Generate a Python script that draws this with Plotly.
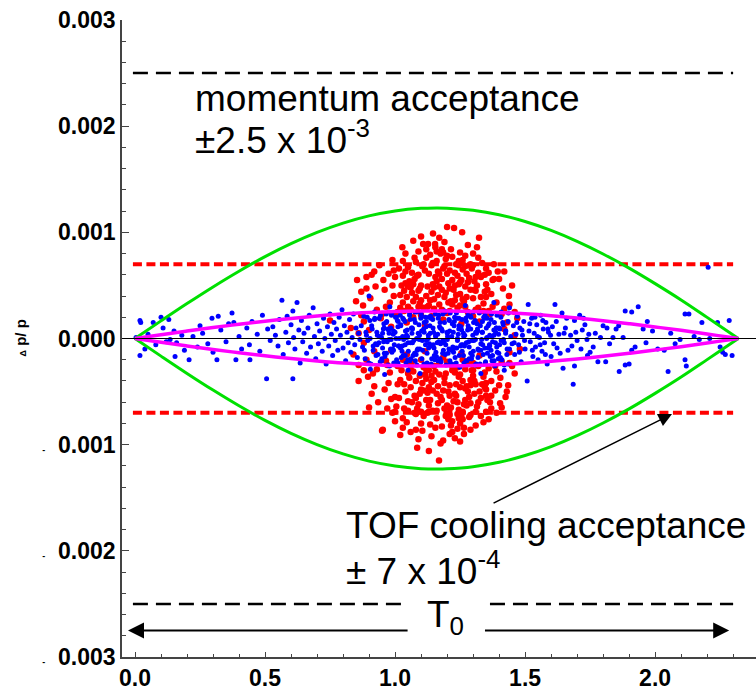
import plotly.graph_objects as go

# ---------------- data ----------------
momentum_acc = 0.0025
tof_acc = 0.0007

env_x = [0, 0.1, 0.2, 0.3, 0.4, 0.5, 0.6, 0.7, 0.8, 0.9, 1.0, 1.1, 1.16, 1.2, 1.3,
         1.4, 1.5, 1.6, 1.7, 1.8, 1.9, 2.0, 2.1, 2.2, 2.3, 2.32]
green_y = [0, 1.66e-4, 3.29e-4, 4.86e-4, 6.34e-4, 7.71e-4, 8.93e-4, 9.99e-4, 10.87e-4,
           11.55e-4, 12.01e-4, 12.26e-4, 12.3e-4, 12.28e-4, 12.08e-4, 11.66e-4, 11.02e-4,
           10.18e-4, 9.15e-4, 7.96e-4, 6.63e-4, 5.17e-4, 3.63e-4, 1.99e-4, 0.33e-4, 0]
magenta_y = [0, 0.35e-4, 0.70e-4, 1.03e-4, 1.34e-4, 1.63e-4, 1.89e-4, 2.11e-4, 2.30e-4,
             2.44e-4, 2.54e-4, 2.59e-4, 2.60e-4, 2.60e-4, 2.55e-4, 2.46e-4, 2.33e-4,
             2.15e-4, 1.93e-4, 1.68e-4, 1.40e-4, 1.09e-4, 0.77e-4, 0.42e-4, 0.07e-4, 0]

red_points = [
    (1.20, 10.5e-4), (1.227, 10.4e-4), (1.258, 10.0e-4), (1.146, 9.9e-4), (1.323, 9.5e-4),
    (1.028, 8.6e-4), (1.108, 8.9e-4), (1.127, 8.9e-4), (1.154, 8.9e-4), (1.185, 8.1e-4),
    (1.315, 8.6e-4), (1.30, 8.0e-4), (1.09, 8.2e-4), (1.12, 7.6e-4),
    (1.169, -11.5e-4), (1.085, -10.3e-4), (1.185, -9.6e-4), (0.95, -8.7e-4), (1.265, -9.0e-4),
    (1.14, -9.2e-4), (1.03, -8.4e-4), (1.22, -8.8e-4), (1.10, -8.0e-4), (1.31, -8.2e-4),
    (1.36, -7.6e-4), (1.00, -7.8e-4),
    (0.854, 5.5e-4), (0.896, -3.6e-4), (0.877, 3.1e-4), (1.438, 4.0e-4), (1.404, -6.1e-4),
    (1.435, -4.4e-4), (0.75, 1.7e-4), (0.89, 4.7e-4), (0.953, -8.6e-4), (0.86, -2.5e-4),
    (0.87, 2.2e-4), (0.92, 6.3e-4), (0.91, -5.2e-4), (1.42, 2.8e-4), (1.45, -2.6e-4),
    (1.40, 5.6e-4), (1.38, 7.0e-4), (1.39, -7.0e-4), (0.94, 6.9e-4), (0.97, -6.6e-4),
    (1.33, -7.3e-4),
    (1.00, 5.8e-4), (1.02, 4.1e-4), (1.05, 6.7e-4), (1.07, 3.5e-4), (1.08, 7.2e-4),
    (1.10, 5.0e-4), (1.11, 2.9e-4), (1.13, 6.1e-4), (1.14, 4.4e-4), (1.16, 7.3e-4),
    (1.17, 3.2e-4), (1.18, 5.6e-4), (1.19, 6.8e-4), (1.21, 4.7e-4), (1.22, 7.7e-4),
    (1.23, 3.6e-4), (1.24, 5.9e-4), (1.25, 4.2e-4), (1.26, 6.5e-4), (1.27, 3.0e-4),
    (1.28, 5.3e-4), (1.29, 7.0e-4), (1.31, 4.5e-4), (1.32, 6.2e-4), (1.34, 3.3e-4),
    (1.35, 5.1e-4), (1.36, 2.6e-4), (0.98, 3.4e-4), (0.99, 7.4e-4), (1.01, 2.5e-4),
    (1.04, 5.2e-4), (1.06, 2.7e-4), (1.09, 6.0e-4), (1.12, 4.0e-4), (1.15, 2.8e-4),
    (1.18, 8.4e-4), (1.20, 6.1e-4), (1.23, 5.0e-4), (1.25, 8.1e-4), (1.27, 4.9e-4),
    (1.30, 3.8e-4), (1.33, 5.8e-4), (1.37, 4.2e-4), (0.96, 4.6e-4), (1.03, 7.3e-4),
    (1.06, 4.8e-4), (1.11, 7.0e-4), (1.13, 3.1e-4), (1.16, 5.4e-4), (1.19, 3.9e-4),
    (1.21, 6.4e-4), (1.24, 2.9e-4), (1.26, 7.4e-4), (1.29, 4.6e-4), (1.32, 2.9e-4),
    (1.35, 6.6e-4), (1.39, 3.4e-4), (1.41, 2.3e-4),
    (1.00, 2.3e-4), (1.05, 3.0e-4), (1.10, 2.2e-4), (1.15, 3.7e-4), (1.20, 2.4e-4),
    (1.25, 3.1e-4), (1.30, 2.1e-4), (1.35, 3.9e-4), (0.93, 2.7e-4), (1.08, 3.9e-4),
    (1.22, 3.2e-4), (1.28, 2.5e-4),
    (1.00, -5.5e-4), (1.02, -3.9e-4), (1.05, -6.8e-4), (1.07, -3.1e-4), (1.08, -7.1e-4),
    (1.10, -4.8e-4), (1.11, -2.7e-4), (1.13, -6.3e-4), (1.14, -4.1e-4), (1.16, -7.5e-4),
    (1.17, -3.4e-4), (1.18, -5.8e-4), (1.19, -6.6e-4), (1.21, -4.4e-4), (1.22, -7.8e-4),
    (1.23, -3.2e-4), (1.24, -6.0e-4), (1.25, -4.6e-4), (1.26, -6.9e-4), (1.27, -2.9e-4),
    (1.28, -5.0e-4), (1.29, -7.2e-4), (1.31, -4.3e-4), (1.32, -6.0e-4), (1.34, -3.6e-4),
    (1.35, -5.4e-4), (1.36, -2.8e-4), (0.98, -3.2e-4), (0.99, -7.0e-4), (1.01, -2.6e-4),
    (1.04, -5.0e-4), (1.06, -2.5e-4), (1.09, -6.2e-4), (1.12, -3.8e-4), (1.15, -2.6e-4),
    (1.18, -8.3e-4), (1.20, -6.3e-4), (1.23, -5.2e-4), (1.25, -8.0e-4), (1.27, -4.7e-4),
    (1.30, -3.5e-4), (1.33, -5.6e-4), (1.37, -4.0e-4), (0.96, -4.8e-4), (1.03, -7.5e-4),
    (1.06, -4.6e-4), (1.11, -7.3e-4), (1.13, -3.0e-4), (1.16, -5.2e-4), (1.19, -3.7e-4),
    (1.21, -6.6e-4), (1.24, -2.7e-4), (1.26, -7.6e-4), (1.29, -4.4e-4), (1.32, -2.6e-4),
    (1.35, -6.9e-4), (1.39, -3.1e-4), (1.41, -2.2e-4), (1.00, -2.4e-4), (1.05, -3.3e-4),
    (1.10, -2.0e-4), (1.15, -3.9e-4), (1.20, -2.2e-4), (1.25, -3.4e-4), (1.30, -2.3e-4),
    (1.35, -4.2e-4), (0.93, -2.9e-4), (1.08, -4.0e-4), (1.22, -3.0e-4), (1.28, -2.4e-4),
    (1.045, 1.5e-4), (1.115, 1.2e-4), (1.185, 1.8e-4), (1.255, 1.4e-4), (1.325, 1.6e-4),
    (0.985, 1.1e-4), (1.045, -1.5e-4), (1.115, -1.2e-4), (1.185, -1.8e-4), (1.255, -1.4e-4),
    (1.325, -1.6e-4), (0.985, -1.1e-4),
    (1.035, 4.5e-4), (1.075, 5.6e-4), (1.125, 4.9e-4), (1.165, 6.3e-4), (1.205, 5.2e-4),
    (1.245, 6.9e-4), (1.285, 5.7e-4), (1.095, 3.3e-4), (1.145, 5.1e-4), (1.235, 4.1e-4),
    (1.275, 6.1e-4), (1.195, 7.5e-4), (1.135, 7.9e-4), (1.215, 8.4e-4), (1.065, 6.2e-4),
    (1.305, 5.4e-4), (1.345, 4.4e-4), (1.155, 8.6e-4), (1.245, 7.3e-4),
    (1.035, -4.3e-4), (1.075, -5.4e-4), (1.125, -5.1e-4), (1.165, -6.1e-4), (1.205, -5.0e-4),
    (1.245, -6.7e-4), (1.285, -5.5e-4), (1.095, -3.5e-4), (1.145, -4.9e-4), (1.235, -4.3e-4),
    (1.275, -6.3e-4), (1.195, -7.3e-4), (1.135, -8.1e-4), (1.215, -8.2e-4), (1.065, -6.0e-4),
    (1.305, -5.2e-4), (1.345, -4.6e-4), (1.155, -8.4e-4), (1.245, -7.5e-4), (1.105, -8.7e-4),
    (1.175, -9.9e-4), (1.265, -8.4e-4),
    (0.90, 0.8e-4), (0.92, -1.2e-4), (1.42, 0.9e-4), (1.44, -1.3e-4), (0.88, -0.4e-4),
    (1.46, 0.3e-4),
    (0.905, 3.8e-4), (0.915, -3.3e-4), (0.925, 4.9e-4), (0.935, -6.0e-4), (0.945, 1.9e-4),
    (0.955, 5.5e-4), (0.965, -2.1e-4), (0.975, 6.1e-4), (0.985, -5.7e-4), (0.995, 4.0e-4),
    (1.005, -6.4e-4), (1.015, 6.6e-4), (1.025, -3.0e-4), (1.035, 2.6e-4), (1.045, -7.9e-4),
    (1.055, 5.4e-4), (1.065, -2.2e-4), (1.075, 7.6e-4), (1.085, -6.6e-4), (1.095, 4.7e-4),
    (1.105, -4.2e-4), (1.115, 6.4e-4), (1.125, -7.0e-4), (1.135, 3.6e-4), (1.145, -6.8e-4),
    (1.155, 5.8e-4), (1.165, -4.5e-4), (1.175, 8.0e-4), (1.185, -4.9e-4), (1.195, 4.3e-4),
    (1.205, -7.6e-4), (1.215, 3.5e-4), (1.225, -5.9e-4), (1.235, 7.0e-4), (1.245, -3.6e-4),
    (1.255, 5.5e-4), (1.265, -6.2e-4), (1.275, 3.9e-4), (1.285, -7.4e-4), (1.295, 6.6e-4),
    (1.305, -4.0e-4), (1.315, 5.0e-4), (1.325, -5.0e-4), (1.335, 7.1e-4), (1.345, -3.2e-4),
    (1.355, 4.6e-4), (1.365, -6.0e-4), (1.375, 5.5e-4), (1.385, -4.9e-4), (1.395, 6.3e-4),
    (1.405, -3.7e-4), (1.415, 4.7e-4), (1.425, -5.5e-4), (1.365, 2.3e-4), (1.02, -9.1e-4),
    (1.07, 9.2e-4), (1.17, 9.5e-4), (1.23, -9.4e-4), (1.28, 8.8e-4), (1.06, -8.8e-4),
    (1.14, 6.9e-4), (1.16, -6.8e-4), (1.20, 7.8e-4), (1.24, -7.1e-4), (1.12, -5.8e-4),
    (1.18, 4.6e-4), (1.22, 5.5e-4), (1.26, -4.0e-4), (1.30, 6.9e-4), (1.08, -5.6e-4),
    (1.04, 6.3e-4), (1.10, -6.9e-4), (1.14, 2.1e-4), (1.17, -2.3e-4), (1.21, 2.6e-4),
    (1.26, -2.0e-4), (1.31, 2.7e-4), (1.03, -2.0e-4), (1.07, 2.0e-4), (1.12, -2.9e-4),
    (0.99, 5.0e-4), (1.01, -4.3e-4), (1.03, 3.4e-4), (1.05, -5.9e-4), (1.09, 4.5e-4),
    (1.13, -4.6e-4), (1.17, 4.9e-4), (1.21, -5.4e-4), (1.25, 5.3e-4), (1.29, -6.1e-4),
    (1.33, 3.9e-4), (1.37, -5.4e-4), (1.38, 5.6e-4), (1.34, -7.9e-4), (1.12, 8.4e-4),
    (1.19, 9.1e-4), (1.27, 7.8e-4), (1.09, -9.5e-4), (1.21, -9.0e-4), (1.29, -8.6e-4),
    (0.83, 1.0e-4), (0.84, -1.5e-4), (0.85, 3.5e-4), (0.86, -4.0e-4), (0.87, 4.4e-4),
    (0.88, -3.0e-4), (0.89, 5.8e-4), (0.88, 1.6e-4), (0.86, 0.5e-4), (0.90, -6.5e-4),
    (0.91, 6.0e-4), (0.92, -4.5e-4), (0.89, -2.0e-4),
    (1.43, 1.5e-4), (1.44, 3.2e-4), (1.46, -3.3e-4), (1.47, 1.9e-4), (1.45, 5.0e-4),
    (1.43, -5.0e-4), (1.48, -1.0e-4), (1.42, 6.3e-4), (1.41, -6.5e-4), (1.44, -2.3e-4),
    (1.46, 2.5e-4),
    (0.965, 3.0e-4), (0.975, -4.2e-4), (0.995, 6.4e-4), (1.015, -5.6e-4), (1.025, 5.0e-4),
    (1.035, -6.6e-4), (1.045, 3.9e-4), (1.055, -3.7e-4), (1.065, 4.3e-4), (1.075, -7.0e-4),
    (1.085, 5.9e-4), (1.095, -5.2e-4), (1.105, 6.8e-4), (1.115, -3.4e-4), (1.125, 3.0e-4),
    (1.135, -5.8e-4), (1.145, 7.1e-4), (1.155, -3.1e-4), (1.165, 4.1e-4), (1.175, -5.5e-4),
    (1.185, 6.6e-4), (1.195, -3.3e-4), (1.205, 3.4e-4), (1.215, -6.5e-4), (1.225, 4.6e-4),
    (1.235, -5.4e-4), (1.245, 5.1e-4), (1.255, -7.2e-4), (1.265, 3.5e-4), (1.275, -4.5e-4),
    (1.285, 6.9e-4), (1.295, -3.0e-4), (1.305, 4.6e-4), (1.315, -6.4e-4), (1.325, 5.9e-4),
    (1.335, -4.3e-4), (1.345, 6.0e-4), (1.355, -5.8e-4), (1.375, 3.0e-4), (1.385, -2.6e-4),
    (1.02, 2.9e-4), (1.06, -2.9e-4), (1.10, 3.6e-4), (1.14, -3.5e-4), (1.18, 2.7e-4),
    (1.22, -2.6e-4), (1.26, 3.7e-4), (1.30, -3.0e-4), (1.34, 2.6e-4), (0.97, -2.5e-4),
    (1.04, 8.0e-4), (1.08, -8.6e-4), (1.16, 8.2e-4), (1.24, -8.5e-4), (1.32, 7.6e-4),
    (1.00, -6.9e-4), (1.36, 6.2e-4), (1.10, 9.6e-4), (1.25, -9.7e-4), (1.13, -10.6e-4),
    (1.05, 4.9e-4), (1.11, -4.9e-4), (1.15, 4.8e-4), (1.19, -4.2e-4), (1.23, 6.2e-4),
    (1.27, -5.8e-4), (1.31, 5.8e-4), (1.35, -4.8e-4), (1.09, 3.0e-4), (1.29, -3.9e-4),
    (1.07, 5.1e-4), (1.13, -6.9e-4), (1.17, 6.1e-4), (1.21, -7.2e-4), (1.27, 6.8e-4),
    (1.31, -6.9e-4), (1.03, 5.9e-4), (1.37, -6.6e-4), (0.95, 2.3e-4), (1.40, -4.4e-4),
]

blue_points = [
    (0.004, 0.1e-4), (0.019, 1.7e-4), (0.022, 1.5e-4), (0.019, -1.6e-4), (0.038, -1.0e-4),
    (0.05, 0.4e-4), (0.07, 1.5e-4), (0.08, -0.6e-4), (0.10, 2.0e-4), (0.108, 1.0e-4),
    (0.12, -0.3e-4), (0.13, 1.8e-4), (0.135, -0.1e-4), (0.15, 0.7e-4), (0.16, -0.4e-4),
    (0.154, -1.7e-4), (0.18, 0.3e-4), (0.19, -1.1e-4), (0.208, -2.0e-4), (0.223, 0.2e-4),
    (0.24, -0.8e-4), (0.25, 1.2e-4), (0.26, 0.5e-4), (0.28, -0.5e-4), (0.296, 1.9e-4),
    (0.30, -1.3e-4), (0.315, -2.0e-4), (0.32, 2.1e-4), (0.33, 0.8e-4), (0.35, -0.3e-4),
    (0.36, 1.4e-4), (0.373, 2.4e-4), (0.38, 1.5e-4), (0.388, -2.0e-4), (0.40, 0.2e-4),
    (0.41, -1.0e-4), (0.43, 1.0e-4), (0.44, -0.6e-4), (0.442, -2.0e-4), (0.45, 1.6e-4),
    (0.47, 0.4e-4), (0.48, -1.2e-4), (0.49, 2.2e-4), (0.506, -3.8e-4), (0.51, 0.9e-4),
    (0.52, -0.2e-4),
    (0.53, 1.1e-4), (0.54, 0.3e-4), (0.55, -0.7e-4), (0.555, 1.8e-4), (0.565, 3.6e-4),
    (0.57, -1.5e-4), (0.58, 0.6e-4), (0.585, 2.1e-4), (0.59, -0.4e-4), (0.60, 1.3e-4),
    (0.607, -3.8e-4), (0.607, 2.6e-4), (0.61, 0.1e-4), (0.615, -1.0e-4), (0.623, 3.4e-4),
    (0.63, 0.8e-4), (0.635, -2.3e-4), (0.64, 1.7e-4), (0.645, -0.3e-4), (0.65, 0.5e-4),
    (0.66, -1.4e-4), (0.665, 1.0e-4), (0.67, 2.2e-4), (0.675, -0.8e-4), (0.685, 2.9e-4),
    (0.69, 0.2e-4), (0.695, -1.9e-4), (0.70, 1.4e-4), (0.705, -0.5e-4), (0.71, 0.7e-4),
    (0.72, -1.2e-4), (0.725, 1.9e-4), (0.73, 0.0), (0.735, -2.4e-4), (0.74, 1.1e-4),
    (0.745, -0.7e-4), (0.75, 2.3e-4), (0.755, 0.4e-4), (0.76, -1.6e-4), (0.765, 1.5e-4),
    (0.77, -0.2e-4), (0.775, 0.9e-4), (0.78, -1.1e-4), (0.785, 2.0e-4), (0.79, 0.3e-4),
    (0.796, 2.7e-4), (0.80, -0.9e-4), (0.805, 1.2e-4), (0.81, -2.1e-4), (0.815, 0.6e-4),
    (0.82, -0.4e-4), (0.825, 1.8e-4), (0.83, -1.3e-4), (0.835, 0.1e-4), (0.84, 2.3e-4),
    (0.845, -0.6e-4), (0.85, 1.0e-4), (0.855, -1.8e-4), (0.86, 0.5e-4), (0.865, -0.1e-4),
    (0.870, 1.2e-4), (0.875, -0.8e-4), (0.880, 2.1e-4), (0.885, -1.9e-4), (0.890, 0.3e-4),
    (0.895, -0.2e-4), (0.900, 4.0e-4), (0.903, 1.7e-4), (0.907, -2.4e-4), (0.912, 0.9e-4),
    (0.916, -1.1e-4), (0.921, 2.5e-4), (0.925, -0.5e-4), (0.930, 0.6e-4), (0.934, -1.5e-4),
    (0.939, 1.9e-4), (0.943, -2.2e-4), (0.948, 0.1e-4), (0.952, -0.9e-4), (0.957, 1.4e-4),
    (0.961, -1.7e-4), (0.966, 2.3e-4), (0.970, -0.3e-4), (0.975, 0.8e-4), (0.979, -2.6e-4),
    (0.984, 1.0e-4), (0.988, -1.3e-4), (0.993, 0.4e-4), (0.997, -0.6e-4), (1.002, 2.0e-4),
    (1.006, -2.0e-4), (1.011, 1.1e-4), (1.015, -0.7e-4), (1.020, 2.2e-4), (1.024, -1.8e-4),
    (1.029, 0.2e-4), (1.033, -0.1e-4), (1.038, 1.6e-4), (1.042, -2.3e-4), (1.047, 0.8e-4),
    (1.051, -1.2e-4), (1.056, 2.4e-4), (1.060, -0.4e-4), (1.065, 0.5e-4), (1.069, -1.6e-4),
    (1.074, 1.8e-4), (1.078, -2.1e-4), (1.083, 0.0), (1.087, -1.0e-4), (1.092, 1.3e-4),
    (1.096, -3.3e-4), (1.101, 2.2e-4), (1.105, -0.2e-4), (1.110, 0.9e-4), (1.114, -2.5e-4),
    (1.119, 1.1e-4), (1.123, -1.4e-4), (1.128, 0.3e-4), (1.132, -0.5e-4), (1.137, 2.1e-4),
    (1.141, -1.9e-4), (1.146, 1.0e-4), (1.150, -0.9e-4), (1.155, 2.3e-4), (1.159, -1.7e-4),
    (1.164, 0.4e-4), (1.168, -0.3e-4), (1.173, 1.5e-4), (1.177, -2.2e-4), (1.182, 0.7e-4),
    (1.186, -1.1e-4), (1.191, 2.6e-4), (1.195, -0.6e-4), (1.200, 0.6e-4), (1.204, -1.4e-4),
    (1.209, 1.7e-4), (1.213, -2.4e-4), (1.218, 0.2e-4), (1.222, -0.8e-4), (1.227, 1.2e-4),
    (1.231, -1.8e-4), (1.236, 2.4e-4), (1.240, -0.2e-4), (1.245, 0.9e-4), (1.249, -2.7e-4),
    (1.254, 1.1e-4), (1.258, -1.2e-4), (1.263, 0.5e-4), (1.267, -0.7e-4), (1.272, 1.9e-4),
    (1.276, -2.1e-4), (1.281, 1.2e-4), (1.285, -0.8e-4), (1.290, 2.1e-4), (1.294, -1.9e-4),
    (1.299, 0.3e-4), (1.303, -0.2e-4), (1.308, 1.7e-4), (1.312, -2.4e-4), (1.317, 0.9e-4),
    (1.321, -1.1e-4), (1.326, 2.5e-4), (1.330, -0.5e-4), (1.335, 0.6e-4), (1.339, -1.5e-4),
    (1.344, 1.9e-4), (1.348, -2.2e-4), (1.353, 0.1e-4), (1.357, -0.9e-4), (1.362, 1.4e-4),
    (1.366, -1.7e-4), (1.371, 2.3e-4), (1.375, -0.3e-4), (1.380, 0.8e-4), (1.384, -2.6e-4),
    (1.389, 1.0e-4), (1.393, -1.3e-4), (1.398, 0.4e-4), (1.402, -0.6e-4), (1.407, 2.0e-4),
    (1.411, -2.0e-4), (1.416, 1.3e-4), (1.420, -0.4e-4), (1.425, 0.7e-4), (1.430, -1.5e-4),
    (1.435, 1.6e-4), (1.440, -1.0e-4), (1.445, 0.2e-4), (1.450, -0.5e-4),
    (0.952, 0.5e-4), (0.959, -1.4e-4), (0.968, 1.6e-4), (0.977, -0.1e-4), (0.986, 2.2e-4),
    (0.995, -2.3e-4), (1.004, 0.0), (1.013, -0.7e-4), (1.022, 1.3e-4), (1.031, -1.6e-4),
    (1.040, 0.7e-4), (1.049, -2.0e-4), (1.058, 1.8e-4), (1.067, -0.4e-4), (1.076, 2.5e-4),
    (1.085, -1.1e-4), (1.094, 0.3e-4), (1.103, -1.9e-4), (1.112, 1.5e-4), (1.121, -0.2e-4),
    (1.130, 2.0e-4), (1.139, -2.4e-4), (1.148, 0.6e-4), (1.157, -1.3e-4), (1.166, 1.9e-4),
    (1.175, -0.5e-4), (1.184, 2.3e-4), (1.193, -1.5e-4), (1.202, 0.2e-4), (1.211, -2.1e-4),
    (1.220, 1.4e-4), (1.229, -0.9e-4), (1.238, 1.9e-4), (1.247, -1.6e-4), (1.256, 0.8e-4),
    (1.265, -2.3e-4), (1.274, 1.6e-4), (1.283, -0.3e-4), (1.292, 2.0e-4), (1.301, -1.2e-4),
    (1.310, 0.6e-4), (1.319, -1.8e-4), (1.328, 1.2e-4), (1.337, -0.6e-4), (1.346, 2.2e-4),
    (1.355, -1.4e-4), (1.364, 0.3e-4), (1.373, -2.1e-4), (1.382, 1.5e-4), (1.391, -0.8e-4),
    (1.400, 1.0e-4),
    (0.956, -0.3e-4), (0.973, 0.9e-4), (0.991, -1.0e-4), (1.009, 1.7e-4), (1.027, -1.2e-4),
    (1.045, 0.1e-4), (1.063, 1.0e-4), (1.081, -1.5e-4), (1.099, 1.9e-4), (1.117, -0.6e-4),
    (1.135, 0.5e-4), (1.153, -2.0e-4), (1.171, 1.1e-4), (1.189, -0.4e-4), (1.207, 1.8e-4),
    (1.225, -1.3e-4), (1.243, 0.4e-4), (1.261, -0.6e-4), (1.279, 0.8e-4), (1.297, -1.6e-4),
    (1.315, 1.4e-4), (1.333, -0.1e-4), (1.351, 1.0e-4), (1.369, -1.1e-4), (1.387, 0.6e-4),
    (1.405, -1.8e-4),
    (0.905, -2.9e-4), (0.98, 3.0e-4), (1.05, -3.0e-4), (1.27, 3.1e-4), (1.33, -3.3e-4),
    (1.38, 3.4e-4), (1.42, -3.0e-4), (1.44, 2.9e-4), (0.96, -3.4e-4),
    (0.882, -1.1e-4), (0.888, 0.6e-4), (0.893, 2.0e-4), (0.899, -2.3e-4), (0.904, 0.0),
    (0.910, 1.2e-4), (0.916, -0.7e-4), (0.921, 1.8e-4), (0.927, -1.6e-4), (0.932, 0.3e-4),
    (0.938, -0.4e-4), (0.944, 2.2e-4), (0.949, -1.9e-4), (0.955, 0.9e-4), (0.960, -0.2e-4),
    (0.966, 1.5e-4), (0.972, -2.5e-4), (0.977, 0.5e-4), (0.983, -1.0e-4), (0.988, 2.4e-4),
    (0.994, -1.1e-4), (1.000, 0.6e-4), (1.005, 2.0e-4), (1.011, -2.3e-4), (1.016, 0.0),
    (1.022, 1.2e-4), (1.028, -0.7e-4), (1.033, 1.8e-4), (1.039, -1.6e-4), (1.044, 0.3e-4),
    (1.050, -0.4e-4), (1.056, 2.2e-4), (1.061, -1.9e-4), (1.067, 0.9e-4), (1.072, -0.2e-4),
    (1.078, 1.5e-4), (1.084, -2.5e-4), (1.089, 0.5e-4), (1.095, -1.0e-4), (1.100, 2.4e-4),
    (1.106, -1.1e-4), (1.112, 0.6e-4), (1.117, 2.0e-4), (1.123, -2.3e-4), (1.128, 0.0),
    (1.134, 1.2e-4), (1.140, -0.7e-4), (1.145, 1.8e-4), (1.151, -1.6e-4), (1.156, 0.3e-4),
    (1.162, -0.4e-4), (1.168, 2.2e-4), (1.173, -1.9e-4), (1.179, 0.9e-4), (1.184, -0.2e-4),
    (1.190, 1.5e-4), (1.196, -2.5e-4), (1.201, 0.5e-4), (1.207, -1.0e-4), (1.212, 2.4e-4),
    (1.218, -1.1e-4), (1.224, 0.6e-4), (1.229, 2.0e-4), (1.235, -2.3e-4), (1.240, 0.0),
    (1.246, 1.2e-4), (1.252, -0.7e-4), (1.257, 1.8e-4), (1.263, -1.6e-4), (1.268, 0.3e-4),
    (1.274, -0.4e-4), (1.280, 2.2e-4), (1.285, -1.9e-4), (1.291, 0.9e-4), (1.296, -0.2e-4),
    (1.302, 1.5e-4), (1.308, -2.5e-4), (1.313, 0.5e-4), (1.319, -1.0e-4), (1.324, 2.4e-4),
    (1.330, -1.1e-4), (1.336, 0.6e-4), (1.341, 2.0e-4), (1.347, -2.3e-4), (1.352, 0.0),
    (1.358, 1.2e-4), (1.364, -0.7e-4), (1.369, 1.8e-4), (1.375, -1.6e-4), (1.380, 0.3e-4),
    (1.386, -0.4e-4), (1.392, 2.2e-4), (1.397, -1.9e-4), (1.403, 0.9e-4), (1.408, -0.2e-4),
    (1.414, 1.5e-4), (1.420, -2.5e-4), (1.425, 0.5e-4), (1.431, -1.0e-4), (1.436, 2.4e-4),
    (0.922, 1.9e-4), (0.931, -0.6e-4), (0.940, 0.2e-4), (0.949, -2.1e-4), (0.958, 1.0e-4),
    (0.967, -1.4e-4), (0.976, 2.5e-4), (0.985, -0.1e-4), (0.994, 0.7e-4), (1.003, -2.4e-4),
    (1.012, 1.6e-4), (1.021, -0.9e-4), (1.030, 1.9e-4), (1.039, -0.6e-4), (1.048, 0.2e-4),
    (1.057, -2.1e-4), (1.066, 1.0e-4), (1.075, -1.4e-4), (1.084, 2.5e-4), (1.093, -0.1e-4),
    (1.102, 0.7e-4), (1.111, -2.4e-4), (1.120, 1.6e-4), (1.129, -0.9e-4), (1.138, 1.9e-4),
    (1.147, -0.6e-4), (1.156, 0.2e-4), (1.165, -2.1e-4), (1.174, 1.0e-4), (1.183, -1.4e-4),
    (1.192, 2.5e-4), (1.201, -0.1e-4), (1.210, 0.7e-4), (1.219, -2.4e-4), (1.228, 1.6e-4),
    (1.237, -0.9e-4), (1.246, 1.9e-4), (1.255, -0.6e-4), (1.264, 0.2e-4), (1.273, -2.1e-4),
    (1.282, 1.0e-4), (1.291, -1.4e-4), (1.300, 2.5e-4), (1.309, -0.1e-4), (1.318, 0.7e-4),
    (1.327, -2.4e-4), (1.336, 1.6e-4), (1.345, -0.9e-4), (1.354, 1.9e-4), (1.363, -0.6e-4),
    (1.372, 0.2e-4), (1.381, -2.1e-4), (1.390, 1.0e-4), (1.399, -1.4e-4), (1.408, 2.5e-4),
    (1.417, -0.1e-4), (1.426, 0.7e-4), (1.435, -2.4e-4),
    (1.455, 1.2e-4), (1.46, -1.5e-4), (1.465, 0.4e-4), (1.47, 2.1e-4), (1.475, -0.6e-4),
    (1.48, 1.0e-4), (1.485, -2.2e-4), (1.49, 0.3e-4), (1.495, 1.6e-4), (1.50, -1.0e-4),
    (1.508, -4.0e-4), (1.512, 3.2e-4), (1.515, 0.7e-4), (1.52, -0.3e-4), (1.525, 1.9e-4),
    (1.53, -1.7e-4), (1.535, 0.5e-4), (1.54, -0.8e-4), (1.545, 1.3e-4), (1.55, -2.0e-4),
    (1.555, 0.1e-4), (1.56, 2.2e-4), (1.565, -1.2e-4), (1.57, 0.9e-4), (1.575, -0.4e-4),
    (1.58, 1.5e-4), (1.585, -2.4e-4), (1.59, 0.6e-4), (1.60, -1.7e-4), (1.605, 1.1e-4),
    (1.615, 3.2e-4), (1.623, -0.9e-4), (1.63, 0.4e-4), (1.642, 2.4e-4), (1.646, -2.8e-4),
    (1.655, 1.0e-4), (1.665, -1.1e-4), (1.675, 0.3e-4), (1.685, -4.3e-4), (1.69, 1.7e-4),
    (1.69, -2.6e-4), (1.70, -0.2e-4), (1.71, 2.2e-4), (1.72, 0.8e-4), (1.73, 1.3e-4),
    (1.738, -0.1e-4), (1.75, -1.3e-4), (1.762, -0.8e-4), (1.77, 0.5e-4), (1.78, -2.2e-4),
    (1.79, 0.1e-4), (1.80, 1.2e-4), (1.81, -2.2e-4), (1.815, 1.0e-4), (1.825, -0.5e-4),
    (1.838, 0.1e-4), (1.85, 0.9e-4), (1.862, -3.1e-4), (1.877, 0.1e-4), (1.885, 2.6e-4),
    (1.885, -2.5e-4), (1.90, -2.4e-4), (1.91, 2.5e-4), (1.91, -1.1e-4), (1.923, -0.8e-4),
    (1.935, 3.0e-4), (1.954, 0.9e-4), (1.965, -0.4e-4), (1.99, 0.7e-4), (2.01, -1.0e-4),
    (2.035, -1.1e-4), (2.05, -3.1e-4), (2.077, -0.5e-4), (2.096, -0.1e-4), (2.115, 2.3e-4),
    (2.115, -2.0e-4), (2.12, -2.6e-4), (2.13, 2.3e-4), (2.15, 0.2e-4), (2.17, -0.1e-4),
    (2.18, 1.5e-4), (2.204, 6.7e-4), (2.21, 0.0), (2.24, 1.5e-4), (2.25, -0.8e-4),
    (2.26, -1.3e-4), (2.27, -1.5e-4), (2.285, 1.7e-4), (2.296, -1.6e-4), (2.06, 0.5e-4),
    (1.97, 1.6e-4), (1.86, 1.2e-4), (1.74, -1.6e-4),
    (1.458, -0.4e-4), (1.468, 1.5e-4), (1.478, -1.3e-4), (1.488, 0.8e-4), (1.498, -0.2e-4),
    (1.518, 1.4e-4), (1.528, -1.1e-4), (1.538, 2.0e-4), (1.548, 0.2e-4), (1.558, -0.6e-4),
    (1.568, 1.7e-4), (1.578, -1.5e-4), (1.588, 0.9e-4), (1.598, 0.3e-4), (1.61, -0.5e-4),
    (1.62, 1.6e-4), (1.635, -1.4e-4), (1.65, 0.5e-4), (1.66, 1.9e-4), (1.68, -0.7e-4),
    (1.695, 0.6e-4), (1.715, -1.0e-4), (1.725, 1.9e-4), (1.745, 0.4e-4),
]

# acceptance line extents
line_x = [-0.008, 2.30]
lower_line_left = [-0.008, 1.03]
lower_line_right = [1.365, 2.30]

# arrows: tip (x, y) and tail (ax, ay)
arrow_specs = [
    dict(x=-0.027, y=-0.00275, ax=1.054, ay=-0.00275, arrowwidth=2, arrowsize=1.6),
    dict(x=2.285, y=-0.00275, ax=1.34, ay=-0.00275, arrowwidth=2, arrowsize=1.6),
    dict(x=2.065, y=-0.000711, ax=1.373, ay=-0.001558, arrowwidth=1.5, arrowsize=1.8),
]

y_tickvals = [-0.003, -0.002, -0.001, 0.0, 0.001, 0.002, 0.003]
x_tickvals = [0.0, 0.5, 1.0, 1.5, 2.0]

# ---------------- figure ----------------
red_x = [p[0] for p in red_points]
red_y = [p[1] for p in red_points]
blue_x = [p[0] for p in blue_points]
blue_y = [p[1] for p in blue_points]

fig = go.Figure()

for lvl in (tof_acc, -tof_acc):
    fig.add_trace(go.Scatter(x=line_x, y=[lvl, lvl], mode="lines",
                             line=dict(color="#ff0000", width=4, dash="9px,4.5px")))
fig.add_trace(go.Scatter(x=line_x, y=[momentum_acc] * 2, mode="lines",
                         line=dict(color="black", width=2.5, dash="15px,8px")))
fig.add_trace(go.Scatter(x=lower_line_left + [None] + lower_line_right,
                         y=[-momentum_acc] * 2 + [None] + [-momentum_acc] * 2, mode="lines",
                         line=dict(color="black", width=2.5, dash="15px,8px")))

fig.add_trace(go.Scatter(x=red_x, y=red_y, mode="markers",
                         marker=dict(color="#ff0000", size=6.5, line=dict(width=0))))
fig.add_trace(go.Scatter(x=blue_x, y=blue_y, mode="markers",
                         marker=dict(color="#0000ff", size=5, line=dict(width=0))))

for sgn in (1, -1):
    fig.add_trace(go.Scatter(x=env_x, y=[sgn * v for v in green_y], mode="lines",
                             line=dict(color="#00e000", width=3, shape="spline")))
for sgn in (1, -1):
    fig.add_trace(go.Scatter(x=env_x, y=[sgn * v for v in magenta_y], mode="lines",
                             line=dict(color="#ff00ff", width=3.5, shape="spline")))

fig.add_shape(type="line", xref="paper", x0=0, x1=1, yref="y", y0=0, y1=0,
              line=dict(color="black", width=1), layer="above")

def ytext(v):
    s = f"{abs(v):.3f}"
    if v < 0:
        return "<span style='font-size:9px'>-</span>\u00a0\u00a0" + s
    return s

tickfont = dict(family="Liberation Sans, Arial", size=23, color="black", weight="bold")
txtfont = dict(family="Liberation Sans, Arial", size=37, color="black")

fig.update_layout(
    width=756, height=696,
    margin=dict(l=122, r=0, t=20, b=39),
    paper_bgcolor="white", plot_bgcolor="white",
    showlegend=False,
    xaxis=dict(range=[-0.05, 2.388], showgrid=False, zeroline=False,
               showline=True, linecolor="#444", linewidth=1.5,
               tickvals=x_tickvals, ticktext=[f"{v:.1f}" for v in x_tickvals],
               ticks="inside", ticklen=5, tickcolor="#444", tickwidth=1,
               minor=dict(dtick=0.1, ticks="inside", ticklen=3, tickcolor="#444", tickwidth=1),
               tickfont=tickfont),
    yaxis=dict(range=[-0.003, 0.003], showgrid=False, zeroline=False,
               showline=True, linecolor="#444", linewidth=1.5,
               tickvals=y_tickvals, ticktext=[ytext(v) for v in y_tickvals],
               ticks="inside", ticklen=7, tickcolor="#444", tickwidth=1,
               minor=dict(dtick=0.0002, ticks="inside", ticklen=4, tickcolor="#444", tickwidth=1),
               tickfont=tickfont),
)

annotations = [
    dict(x=0.225, y=0.00226, text="momentum acceptance"),
    dict(x=0.225, y=0.00189, text="\u00b12.5 x 10<sup>-3</sup>"),
    dict(x=0.808, y=-0.001765, text="TOF cooling acceptance"),
    dict(x=0.808, y=-0.00217, text="\u00b1 7 x 10<sup>-4</sup>"),
    dict(x=1.12, y=-0.00262, text="T<sub>0</sub>"),
]
for a in annotations:
    fig.add_annotation(xref="x", yref="y", showarrow=False, font=txtfont, borderpad=0,
                       xanchor="left", yanchor="middle", **a)

for a in arrow_specs:
    fig.add_annotation(xref="x", yref="y", axref="x", ayref="y", text="", showarrow=True,
                       arrowhead=2, arrowcolor="black", standoff=0, **a)

fig.add_annotation(xref="paper", yref="y", x=(20 - 122) / 634, y=0,
                   text="<span style='font-size:9px'>\u0394</span> p/ p", textangle=-90,
                   showarrow=False, xanchor="center", yanchor="middle",
                   font=dict(family="Liberation Sans, Arial", size=15, color="black", weight="bold"))

fig.write_html("out.html", config={"displayModeBar": False},
               post_script="document.body.style.margin='0px';")
